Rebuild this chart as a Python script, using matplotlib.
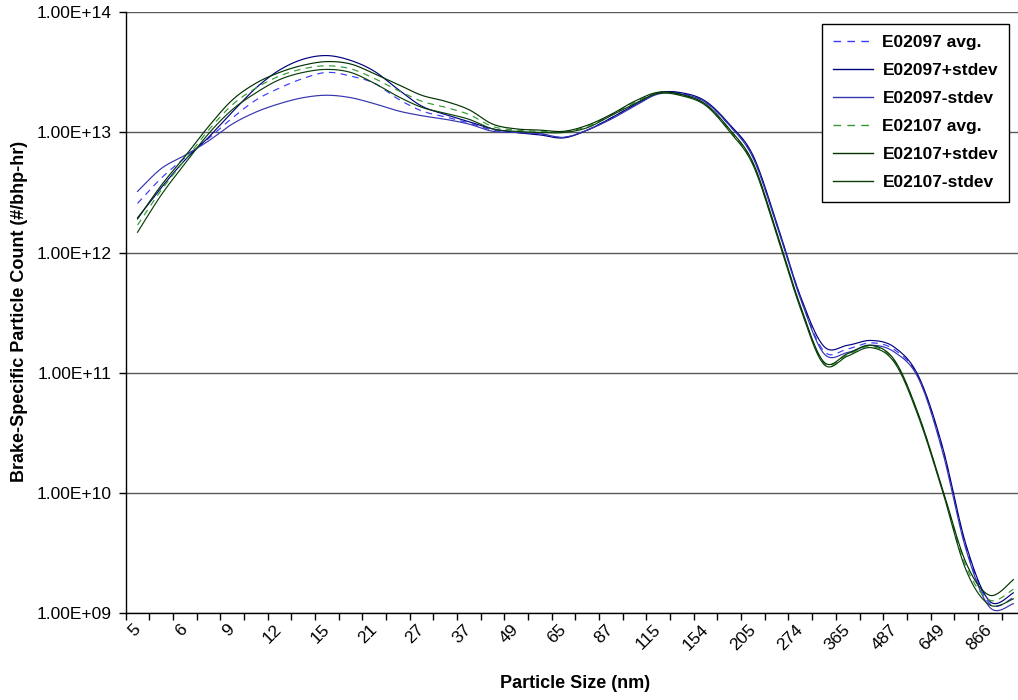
import numpy as np
import matplotlib
matplotlib.use("Agg")
import matplotlib.pyplot as plt
from matplotlib.ticker import FixedLocator, FuncFormatter, NullFormatter
from matplotlib.lines import Line2D

plt.rcParams["font.family"] = ["Liberation Sans", "DejaVu Sans"]

# Particle size bins (nm); every second bin is labelled on the axis
size_labels = ["5", "6", "9", "12", "15", "21", "27", "37", "49", "65",
               "87", "115", "154", "205", "274", "365", "487", "649", "866"]
n_bins = 38

# Brake-specific particle counts (#/bhp-hr), log10 values per size bin
e02097_avg = [12.41, 12.62, 12.79, 12.95, 13.12, 13.27, 13.37, 13.45, 13.50, 13.47,
              13.41, 13.28, 13.18, 13.13, 13.08, 13.02, 13.00, 12.99, 12.96, 13.02,
              13.12, 13.23, 13.33, 13.325, 13.25, 13.06, 12.80, 12.24, 11.63, 11.18,
              11.20, 11.25, 11.19, 10.96, 10.37, 9.55, 9.08, 9.13]
e02097_plus = [12.29, 12.54, 12.77, 12.96, 13.17, 13.37, 13.52, 13.61, 13.64, 13.60,
               13.51, 13.36, 13.22, 13.15, 13.09, 13.03, 13.00, 12.98, 12.955, 13.02,
               13.12, 13.23, 13.33, 13.33, 13.26, 13.07, 12.81, 12.25, 11.64, 11.22,
               11.23, 11.27, 11.21, 10.97, 10.39, 9.57, 9.10, 9.17]
e02097_minus = [12.51, 12.70, 12.81, 12.93, 13.07, 13.17, 13.24, 13.29, 13.31, 13.29,
                13.24, 13.18, 13.14, 13.11, 13.07, 13.01, 13.00, 12.99, 12.96, 13.02,
                13.11, 13.22, 13.32, 13.32, 13.25, 13.06, 12.79, 12.23, 11.62, 11.16,
                11.17, 11.23, 11.17, 10.95, 10.35, 9.53, 9.05, 9.08]
e02107_avg = [12.23, 12.52, 12.77, 13.02, 13.23, 13.37, 13.47, 13.53, 13.555, 13.53,
              13.45, 13.35, 13.26, 13.21, 13.15, 13.05, 13.02, 13.01, 13.005, 13.05,
              13.145, 13.25, 13.33, 13.31, 13.23, 13.02, 12.74, 12.16, 11.55, 11.08,
              11.15, 11.22, 11.09, 10.64, 10.03, 9.39, 9.11, 9.20]
e02107_plus = [12.28, 12.56, 12.80, 13.05, 13.27, 13.41, 13.50, 13.56, 13.59, 13.57,
               13.49, 13.40, 13.31, 13.26, 13.19, 13.07, 13.03, 13.02, 13.01, 13.06,
               13.15, 13.26, 13.335, 13.315, 13.235, 13.03, 12.75, 12.17, 11.56, 11.09,
               11.16, 11.23, 11.10, 10.65, 10.04, 9.42, 9.15, 9.28]
e02107_minus = [12.17, 12.48, 12.74, 12.99, 13.19, 13.33, 13.44, 13.50, 13.525, 13.50,
                13.41, 13.30, 13.21, 13.16, 13.11, 13.03, 13.01, 13.00, 13.00, 13.04,
                13.14, 13.24, 13.325, 13.305, 13.225, 13.01, 12.73, 12.15, 11.54, 11.07,
                11.14, 11.21, 11.08, 10.63, 10.02, 9.36, 9.07, 9.12]

series = [
    ("E02097 avg.", e02097_avg, "#3a3aff", (0, (5.5, 4.5))),
    ("E02097+stdev", e02097_plus, "#000080", "-"),
    ("E02097-stdev", e02097_minus, "#3434b0", "-"),
    ("E02107 avg.", e02107_avg, "#339933", (0, (5.5, 4.5))),
    ("E02107+stdev", e02107_plus, "#003300", "-"),
    ("E02107-stdev", e02107_minus, "#0a3f0a", "-"),
]


def smooth(xs, ys, steps=24):
    """Bezier smoothing through every point (tangent = neighbour chord / 6)."""
    p = np.column_stack([xs, ys]).astype(float)
    ext = np.vstack([p[0], p, p[-1]])
    out = [p[0]]
    t = np.linspace(0, 1, steps)[1:, None]
    for i in range(len(p) - 1):
        p0, p1 = ext[i + 1], ext[i + 2]
        c1 = p0 + (ext[i + 2] - ext[i]) / 6.0
        c2 = p1 - (ext[i + 3] - ext[i + 1]) / 6.0
        seg = ((1 - t) ** 3) * p0 + 3 * ((1 - t) ** 2) * t * c1 \
            + 3 * (1 - t) * t ** 2 * c2 + t ** 3 * p1
        out.extend(seg)
    out = np.array(out)
    return out[:, 0], out[:, 1]


W, H = 1018, 700
fig = plt.figure(figsize=(W / 100, H / 100), dpi=100)
ax_left, ax_right, ax_top, ax_bottom = 125.7, 1025.2, 12.3, 613.3
ax = fig.add_axes([ax_left / W, 1 - ax_bottom / H,
                   (ax_right - ax_left) / W, (ax_bottom - ax_top) / H])

x = np.arange(n_bins)
for name, vals, color, ls in series:
    sx, sy = smooth(x, np.asarray(vals))
    ax.plot(sx, 10 ** sy, color=color, lw=0.85, ls=ls, label=name)

ax.set_yscale("log")
ax.set_ylim(1e9, 1e14)
ax.set_xlim(-0.5, n_bins - 0.5)

ax.yaxis.set_major_locator(FixedLocator([10.0 ** k for k in range(9, 15)]))
ax.yaxis.set_minor_locator(FixedLocator([]))
ax.yaxis.set_major_formatter(FuncFormatter(lambda v, p: f"{v:.2E}"))
ax.grid(axis="y", which="major", color="#5a5a5a", lw=1.0)
ax.set_axisbelow(True)

ax.set_xticks(np.arange(n_bins + 1) - 0.5)
ax.xaxis.set_major_formatter(NullFormatter())
ax.set_xticks(np.arange(0, n_bins - 1, 2), labels=size_labels, minor=True)
ax.tick_params(axis="x", which="minor", length=0, pad=10, labelsize=12.5)
for lab in ax.get_xticklabels(minor=True):
    lab.set_rotation(45)
    lab.set_ha("right")
    lab.set_va("center")
    lab.set_rotation_mode("anchor")
ax.tick_params(axis="x", which="major", length=5, width=1, direction="out")
ax.tick_params(axis="y", which="major", length=5, width=1, direction="out",
               pad=5, labelsize=12.5)

for s in ("top", "right"):
    ax.spines[s].set_visible(False)
for s in ("left", "bottom"):
    ax.spines[s].set_color("black")
    ax.spines[s].set_linewidth(1.0)

fig.text(575 / W, 1 - 683 / H, "Particle Size (nm)", ha="center", va="center",
         fontsize=13, fontweight="bold")
fig.text(20 / W, 1 - 311 / H, "Brake-Specific Particle Count (#/bhp-hr)",
         ha="center", va="center", rotation=90, fontsize=13, fontweight="bold")

handles = [Line2D([], [], color=c, lw=1.0, ls=ls) for _, _, c, ls in series]
leg = ax.legend(handles, [s[0] for s in series], loc="upper left",
                bbox_to_anchor=(821.7 / W, 1 - 24 / H), bbox_transform=fig.transFigure,
                prop={"weight": "bold", "size": 12.5}, frameon=True, fancybox=False,
                edgecolor="black", framealpha=1, handlelength=2.3, handletextpad=0.55,
                labelspacing=0.74, borderpad=0.65, borderaxespad=0)
leg.get_frame().set_linewidth(1.0)

fig.savefig("out.png", dpi=100)
